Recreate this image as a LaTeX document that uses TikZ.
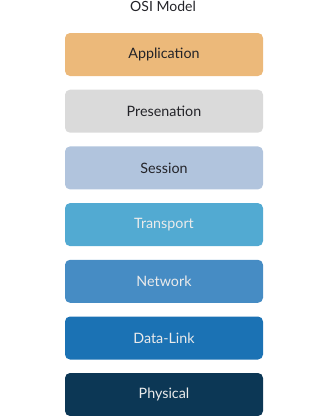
\documentclass[tikz,border=0pt]{standalone}
\usepackage{fontspec}
\setmainfont{Lato}
\usepackage{xcolor}
\definecolor{apporange}{RGB}{236,185,122}
\definecolor{presgray}{RGB}{218,218,218}
\definecolor{sessblue}{RGB}{177,196,221}
\definecolor{transblue}{RGB}{82,170,210}
\definecolor{netblue}{RGB}{70,140,196}
\definecolor{linkblue}{RGB}{27,114,180}
\definecolor{physblue}{RGB}{12,55,85}
\definecolor{darktext}{RGB}{35,35,40}

\begin{document}
\begin{tikzpicture}[x=1pt, y=-1pt,
  layer/.style={rounded corners=5pt, minimum width=198pt, minimum height=43pt,
    inner sep=0pt, font=\fontsize{14.3}{17}\selectfont},
  darklayer/.style={layer, text=darktext},
  lightlayer/.style={layer, text=white!92!black}]
  \useasboundingbox (0,0) rectangle (329,416);
  \node[font=\fontsize{14}{16}\selectfont, text=darktext] (title) at (163,6.5) {OSI Model};
  \node[darklayer, fill=apporange]   (app)   at (164,54.5)  {Application};
  \node[darklayer, fill=presgray]    (pres)  at (164,111.2) {Presenation};
  \node[darklayer, fill=sessblue]    (sess)  at (164,167.9) {Session};
  \node[lightlayer, fill=transblue]  (trans) at (164,224.6) {Transport};
  \node[lightlayer, fill=netblue]    (net)   at (164,281.3) {Network};
  \node[lightlayer, fill=linkblue]   (link)  at (164,338)   {Data-Link};
  \node[lightlayer, fill=physblue]   (phys)  at (164,394.5) {Physical};
\end{tikzpicture}
\end{document}
